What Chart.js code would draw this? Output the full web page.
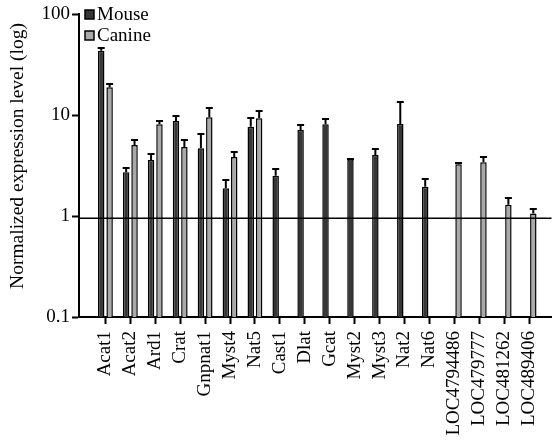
<!DOCTYPE html>
<html>
<head>
<meta charset="utf-8">
<script src="https://cdn.jsdelivr.net/npm/chart.js@4/dist/chart.umd.min.js"></script>
<style>
  html, body { margin: 0; padding: 0; background: #ffffff; }
  #wrap { width: 559px; height: 440px; }
</style>
</head>
<body>
<div id="wrap"><canvas id="chart" width="559" height="440"></canvas></div>
<script>
// Gene names along the x axis
const categories = ['Acat1', 'Acat2', 'Ard1', 'Crat', 'Gnpnat1', 'Myst4', 'Nat5', 'Cast1', 'Dlat',
  'Gcat', 'Myst2', 'Myst3', 'Nat2', 'Nat6', 'LOC4794486', 'LOC479777', 'LOC481262', 'LOC489406'];

// Normalized expression level, mouse (mean and upper error)
const mouseValues = [43.2, 2.71, 3.59, 8.74, 4.69, 1.88, 7.67, 2.51, 7.11, 8.11, 3.65, 4.02, 8.16, 1.95, null, null, null, null];
const mouseErrors = [3.3, 0.30, 0.56, 1.06, 1.85, 0.38, 1.62, 0.41, 0.87, 0.98, 0.02, 0.56, 5.3, 0.36, null, null, null, null];

// Normalized expression level, canine (mean and upper error)
const canineValues = [18.8, 5.05, 8.11, 4.83, 9.51, 3.84, 9.29, null, null, null, null, null, null, null, 3.25, 3.41, 1.29, 1.06];
const canineErrors = [1.5, 0.57, 0.63, 0.87, 2.2, 0.44, 1.69, null, null, null, null, null, null, null, 0.1, 0.46, 0.23, 0.10];

// Log axis ticks
const yTickValues = [0.1, 1, 10, 100];
const yTickLabels = ['0.1', '1', '10', '100'];

// Baseline expression level marked across the plot
const referenceLevel = 0.95;

const FONT = "'Liberation Serif', 'Times New Roman', Times, serif";
Chart.defaults.font.family = FONT;
Chart.defaults.font.size = 19;
Chart.defaults.color = '#000000';

const series = [
  { label: 'Mouse', values: mouseValues, errors: mouseErrors, color: '#363636' },
  { label: 'Canine', values: canineValues, errors: canineErrors, color: '#a9a9a9' }
];

// Upward error whiskers with a cap
const errorBars = {
  id: 'errorBars',
  afterDatasetsDraw(chart) {
    const ctx = chart.ctx;
    const y = chart.scales.y;
    ctx.save();
    ctx.strokeStyle = '#000000';
    ctx.lineWidth = 2;
    chart.data.datasets.forEach((ds, di) => {
      const meta = chart.getDatasetMeta(di);
      const errs = series[di].errors;
      meta.data.forEach((el, i) => {
        const v = series[di].values[i];
        const e = errs[i];
        if (v == null || e == null) return;
        const yTop = Math.round(y.getPixelForValue(v + e));
        const x = el.x;
        ctx.beginPath();
        ctx.moveTo(x, el.y);
        ctx.lineTo(x, yTop);
        ctx.moveTo(x - 3.5, yTop);
        ctx.lineTo(x + 3.5, yTop);
        ctx.stroke();
      });
    });
    ctx.restore();
  }
};

// Horizontal reference line across the plot
const refLine = {
  id: 'refLine',
  afterDatasetsDraw(chart) {
    const ctx = chart.ctx;
    const a = chart.chartArea;
    const yy = chart.scales.y.getPixelForValue(referenceLevel);
    ctx.save();
    ctx.strokeStyle = '#000000';
    ctx.lineWidth = 1.6;
    ctx.beginPath();
    ctx.moveTo(a.left, yy);
    ctx.lineTo(a.right, yy);
    ctx.stroke();
    ctx.restore();
  }
};

// Legend in the upper-left corner of the plot
const cornerLegend = {
  id: 'cornerLegend',
  afterDraw(chart) {
    const ctx = chart.ctx;
    ctx.save();
    ctx.font = '19px ' + FONT;
    ctx.textBaseline = 'alphabetic';
    chart.data.datasets.forEach((ds, i) => {
      const top = 10 + i * 21;
      ctx.fillStyle = ds.backgroundColor;
      ctx.fillRect(85, top, 9, 9);
      ctx.strokeStyle = '#000000';
      ctx.lineWidth = 1.5;
      ctx.strokeRect(85, top, 9, 9);
      ctx.fillStyle = '#000000';
      ctx.fillText(ds.label, 97, top + 9.5);
    });
    ctx.restore();
  }
};

// Rotated y-axis title
const yTitle = {
  id: 'yTitle',
  afterDraw(chart) {
    const ctx = chart.ctx;
    ctx.save();
    ctx.font = '19.5px ' + FONT;
    ctx.fillStyle = '#000000';
    ctx.textAlign = 'center';
    ctx.textBaseline = 'middle';
    ctx.translate(18, 156);
    ctx.rotate(-Math.PI / 2);
    ctx.fillText('Normalized expression level (log)', 0, 0);
    ctx.restore();
  }
};

new Chart(document.getElementById('chart'), {
  type: 'bar',
  data: {
    datasets: series.map(s => ({
      label: s.label,
      data: s.values.map((v, i) => ({ x: i, y: v })),
      backgroundColor: s.color,
      borderColor: '#000000',
      borderWidth: 1.5,
      categoryPercentage: 0.674,
      barPercentage: 0.77
    }))
  },
  options: {
    responsive: false,
    animation: false,
    devicePixelRatio: 1,
    layout: { padding: { top: 14, right: 2, left: 0, bottom: 0 } },
    plugins: { legend: { display: false }, tooltip: { enabled: false } },
    scales: {
      x: {
        type: 'linear',
        offset: false,
        min: -1.06,
        max: 17.9,
        afterBuildTicks(scale) {
          scale.ticks = categories.map((_, i) => ({ value: i }));
        },
        afterFit(scale) { scale.height = 123; },
        ticks: {
          autoSkip: false,
          minRotation: 90,
          maxRotation: 90,
          padding: 7,
          font: { size: 19 },
          callback: (v) => categories[v]
        },
        grid: { offset: false, drawOnChartArea: false, tickLength: 7, tickWidth: 2, tickColor: '#000000' },
        border: { display: true, color: '#000000', width: 2 }
      },
      y: {
        type: 'logarithmic',
        min: 0.1,
        max: 100,
        afterBuildTicks(scale) {
          scale.ticks = yTickValues.map(v => ({ value: v }));
        },
        afterFit(scale) { scale.width = 79; },
        ticks: {
          padding: 2,
          font: { size: 19 },
          callback: (v) => yTickLabels[yTickValues.indexOf(v)]
        },
        grid: { drawOnChartArea: false, tickLength: 7, tickWidth: 2, tickColor: '#000000' },
        border: { display: true, color: '#000000', width: 2 }
      }
    }
  },
  plugins: [errorBars, refLine, cornerLegend, yTitle]
});
</script>
</body>
</html>
